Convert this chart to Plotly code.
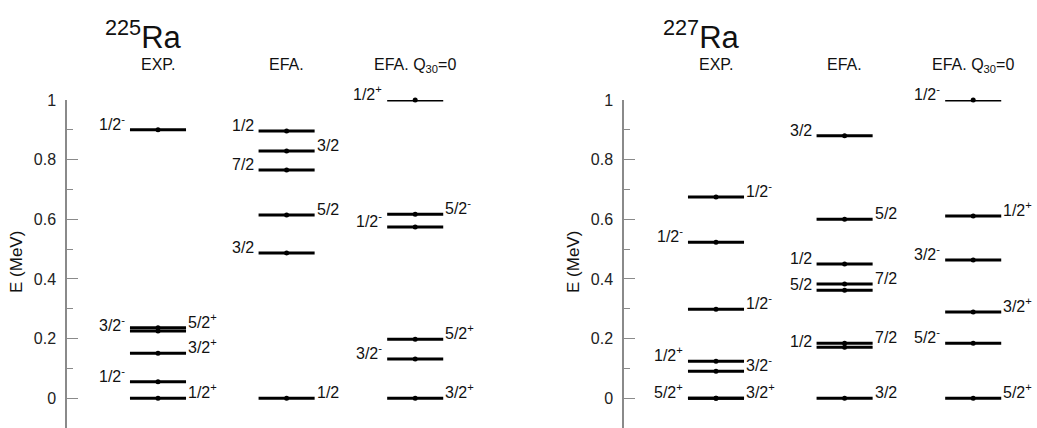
import plotly.graph_objects as go

# ---------------- data ----------------
columns = ["EXP.", "EFA.", "EFA. Q<sub>30</sub>=0"]
nuclei = ["<sup>225</sup>Ra", "<sup>227</sup>Ra"]

# 225Ra
ra225_exp_E = [0.0, 0.055, 0.151, 0.225, 0.236, 0.900]
ra225_exp_J = ["1/2<sup>+</sup>", "1/2<sup>-</sup>", "3/2<sup>+</sup>", "3/2<sup>-</sup>", "5/2<sup>+</sup>", "1/2<sup>-</sup>"]
ra225_exp_side = ["R", "L", "R", "L", "R", "L"]

ra225_efa_E = [0.0, 0.487, 0.614, 0.765, 0.829, 0.896]
ra225_efa_J = ["1/2", "3/2", "5/2", "7/2", "3/2", "1/2"]
ra225_efa_side = ["R", "L", "R", "L", "R", "L"]

ra225_q0_E = [0.0, 0.131, 0.198, 0.574, 0.617, 1.000]
ra225_q0_J = ["3/2<sup>+</sup>", "3/2<sup>-</sup>", "5/2<sup>+</sup>", "1/2<sup>-</sup>", "5/2<sup>-</sup>", "1/2<sup>+</sup>"]
ra225_q0_side = ["R", "L", "R", "L", "R", "L"]

# 227Ra
ra227_exp_E = [0.0, 0.0, 0.090, 0.124, 0.298, 0.523, 0.675]
ra227_exp_J = ["5/2<sup>+</sup>", "3/2<sup>+</sup>", "3/2<sup>-</sup>", "1/2<sup>+</sup>", "1/2<sup>-</sup>", "1/2<sup>-</sup>", "1/2<sup>-</sup>"]
ra227_exp_side = ["L", "R", "R", "L", "R", "L", "R"]

ra227_efa_E = [0.0, 0.171, 0.184, 0.362, 0.383, 0.450, 0.600, 0.880]
ra227_efa_J = ["3/2", "1/2", "7/2", "5/2", "7/2", "1/2", "5/2", "3/2"]
ra227_efa_side = ["R", "L", "R", "L", "R", "L", "R", "L"]

ra227_q0_E = [0.0, 0.184, 0.289, 0.463, 0.611, 1.000]
ra227_q0_J = ["5/2<sup>+</sup>", "5/2<sup>-</sup>", "3/2<sup>+</sup>", "3/2<sup>-</sup>", "1/2<sup>+</sup>", "1/2<sup>-</sup>"]
ra227_q0_side = ["R", "L", "R", "L", "R", "L"]

y_tickvals = [0, 0.2, 0.4, 0.6, 0.8, 1.0]
y_ticktext = ["0", "0.2", "0.4", "0.6", "0.8", "1"]
y_minorvals = [0.1, 0.3, 0.5, 0.7, 0.9]
y_title = "E (MeV)"

panels = [
    [(ra225_exp_E, ra225_exp_J, ra225_exp_side),
     (ra225_efa_E, ra225_efa_J, ra225_efa_side),
     (ra225_q0_E, ra225_q0_J, ra225_q0_side)],
    [(ra227_exp_E, ra227_exp_J, ra227_exp_side),
     (ra227_efa_E, ra227_efa_J, ra227_efa_side),
     (ra227_q0_E, ra227_q0_J, ra227_q0_side)],
]

# ---------------- style / layout ----------------
W, H = 1037, 428
FONT = "Liberation Sans, Arial, Helvetica, sans-serif"
HALF = 0.218          # half bar width in column units
PX_PER_COL = 128.6
axis_px = [67, 624]
right_px = [520, 1037]
first_offset_px = [91, 92]
plot_top_px = 100

fig = go.Figure()
annotations = []

for p, cols in enumerate(panels):
    xa = "x" if p == 0 else "x2"
    ya = "y" if p == 0 else "y2"
    xname = "xaxis" if p == 0 else "xaxis2"
    yname = "yaxis" if p == 0 else "yaxis2"
    for c, (E, J, side) in enumerate(cols):
        xs, ys = [], []
        for e in E:
            xs += [c - HALF, c + HALF, None]
            ys += [e, e, None]
        fig.add_trace(go.Scatter(x=xs, y=ys, mode="lines", xaxis=xa, yaxis=ya,
                                 line=dict(color="black", width=3), showlegend=False,
                                 hoverinfo="skip", cliponaxis=False))
        fig.add_trace(go.Scatter(x=[c] * len(E), y=E, mode="markers", xaxis=xa, yaxis=ya,
                                 marker=dict(color="black", size=5), showlegend=False,
                                 cliponaxis=False))
        for e, j, s in zip(E, J, side):
            if s == "L":
                annotations.append(dict(x=c - HALF, y=e, xref=xa, yref=ya, text=j,
                                        xanchor="right", yanchor="bottom", xshift=-3, yshift=-5,
                                        showarrow=False, font=dict(size=16, color="#111", family=FONT)))
            else:
                annotations.append(dict(x=c + HALF, y=e, xref=xa, yref=ya, text=j,
                                        xanchor="left", yanchor="bottom", xshift=0, yshift=-5,
                                        showarrow=False, font=dict(size=16, color="#111", family=FONT)))
        # column header
        annotations.append(dict(x=c, y=1 - 54 / H, xref=xa, yref="paper", text=columns[c],
                                xanchor="center", yanchor="top", showarrow=False,
                                font=dict(size=16, color="#111", family=FONT)))
    # nucleus title
    annotations.append(dict(x=-0.11, y=1 - 57 / H, xref=xa, yref="paper", text=nuclei[p],
                            xanchor="center", yanchor="bottom", showarrow=False,
                            font=dict(size=31, color="#111", family=FONT)))
    # y-axis title
    annotations.append(dict(x=(axis_px[p] - 51) / W, y=1 - 262 / H, xref="paper", yref="paper",
                            text=y_title, textangle=-90, xanchor="center", yanchor="middle",
                            showarrow=False, font=dict(size=17, color="#111", family=FONT)))

    x0 = -first_offset_px[p] / PX_PER_COL
    x1 = x0 + (right_px[p] - axis_px[p]) / PX_PER_COL
    fig.layout[xname] = dict(domain=[axis_px[p] / W, right_px[p] / W], range=[x0, x1],
                             visible=False, automargin=False, anchor=ya)
    fig.layout[yname] = dict(domain=[0, 1 - plot_top_px / H], range=[-0.1, 1.0],
                             anchor=xa, showgrid=False, zeroline=False, automargin=False,
                             showline=True, linecolor="#8a8a8a", linewidth=1.5,
                             ticks="inside", ticklen=11, tickwidth=1.3, tickcolor="#8a8a8a",
                             tickmode="array", tickvals=y_tickvals, ticktext=y_ticktext,
                             ticklabelstandoff=6,
                             tickfont=dict(size=16, color="#222", family=FONT),
                             minor=dict(tickmode="array", tickvals=y_minorvals, ticks="inside",
                                        ticklen=6, tickwidth=1.3, tickcolor="#8a8a8a",
                                        showgrid=False))

fig.update_layout(width=W, height=H, margin=dict(l=0, r=0, t=0, b=0, pad=0, autoexpand=False),
                  paper_bgcolor="white", plot_bgcolor="white",
                  annotations=annotations, showlegend=False,
                  font=dict(family=FONT))

fig.write_html("out.html", config={"displayModeBar": False})
